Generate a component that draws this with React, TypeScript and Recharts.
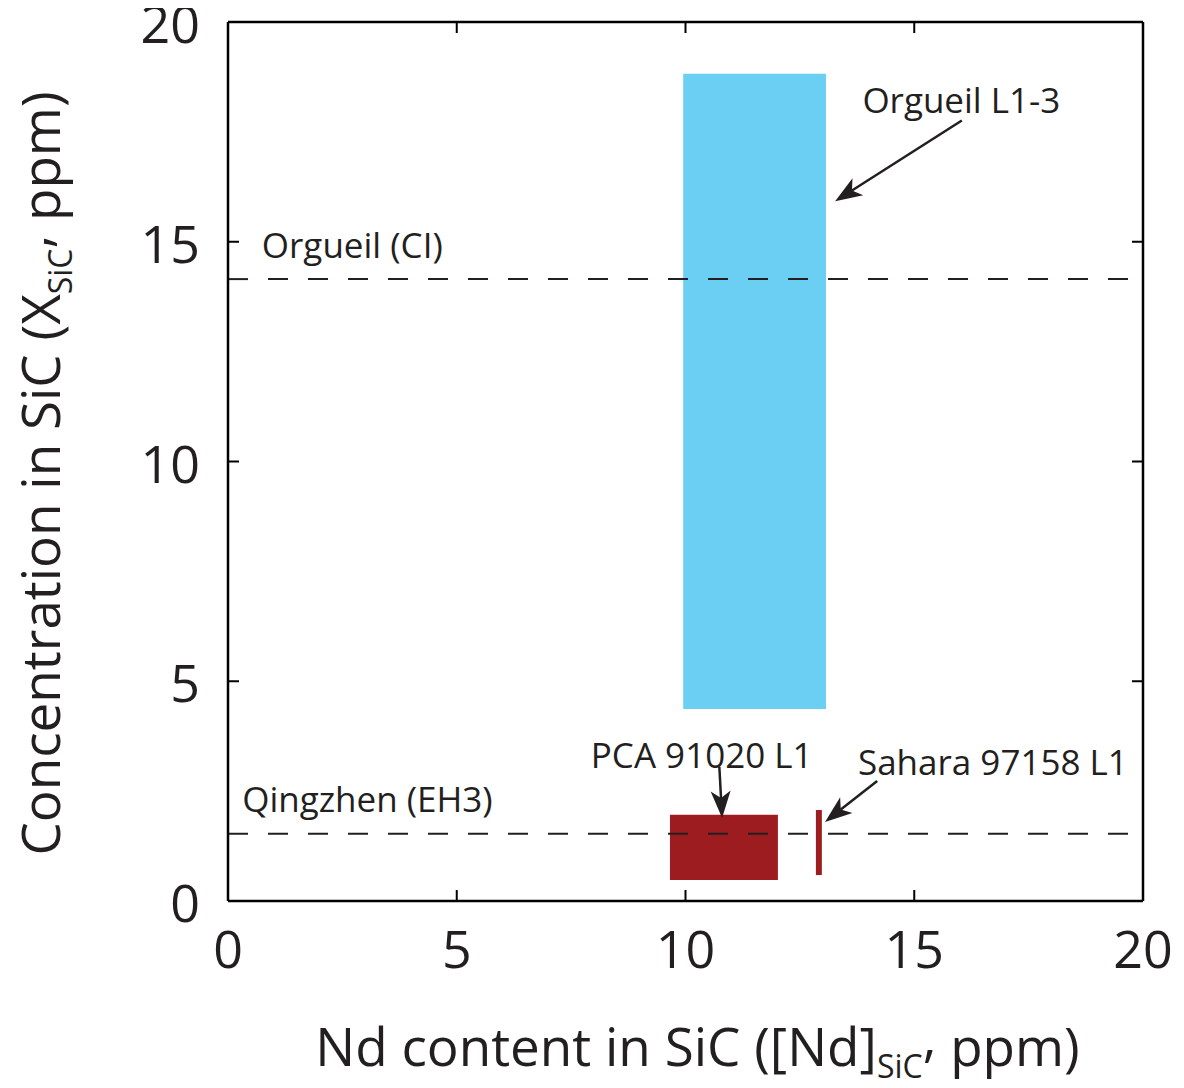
import {
  ComposedChart,
  XAxis,
  YAxis,
  ReferenceArea,
  ReferenceLine,
  ReferenceDot,
} from "recharts";

// axis ticks
const xTicks = [0, 5, 10, 15, 20];
const yTicks = [0, 5, 10, 15, 20];

// measured SiC ranges per sample
const sampleNames = ["Orgueil L1-3", "PCA 91020 L1", "Sahara 97158 L1"];
const ndRanges = [
  [9.95, 13.07],
  [9.66, 12.02],
  [12.85, 12.98],
];
const concRanges = [
  [4.37, 18.82],
  [0.48, 1.96],
  [0.59, 2.07],
];

// bulk meteorite reference levels
const bulkNames = ["Orgueil (CI)", "Qingzhen (EH3)"];
const bulkConc = [14.15, 1.53];
const bulkLabelAt = [
  [0.74, 14.64],
  [0.31, 2.02],
];

// annotation arrows (from label towards box) and label anchors
const arrowFrom = [
  [16.04, 17.76],
  [10.74, 3.05],
  [14.19, 2.73],
];
const arrowTo = [
  [13.27, 15.92],
  [10.8, 1.89],
  [13.05, 1.8],
];
const sampleLabelAt = [
  [16.03, 17.93],
  [7.93, 3.02],
  [13.77, 2.86],
];

const sampleColors = ["#6BCEF3", "#9C1C20", "#9C1C20"];
const INK = "#231F20";
const FONT = "'Open Sans', 'Noto Sans', sans-serif";
const TICK_LEN = 11;

const BottomTick = (props: any) => {
  const { x, y, payload } = props;
  return (
    <g>
      <line x1={x} y1={y} x2={x} y2={y - TICK_LEN} stroke="#000" strokeWidth={2} />
      <text x={x} y={y + 67} textAnchor="middle" fontSize={52} fontFamily={FONT} fill={INK}>
        {payload.value}
      </text>
    </g>
  );
};

const LeftTick = (props: any) => {
  const { x, y, payload } = props;
  return (
    <g>
      <line x1={x} y1={y} x2={x + TICK_LEN} y2={y} stroke="#000" strokeWidth={2} />
      <text x={x - 28} y={y + 21} textAnchor="end" fontSize={52} fontFamily={FONT} fill={INK}>
        {payload.value}
      </text>
    </g>
  );
};

const TopTick = (props: any) => {
  const { x, y } = props;
  return <line x1={x} y1={y} x2={x} y2={y + TICK_LEN} stroke="#000" strokeWidth={2} />;
};

const RightTick = (props: any) => {
  const { x, y } = props;
  return <line x1={x} y1={y} x2={x - TICK_LEN} y2={y} stroke="#000" strokeWidth={2} />;
};

const XTitle = (props: any) => {
  const { viewBox } = props;
  const cx = viewBox.x + viewBox.width / 2 + 12;
  const by = viewBox.y + 165;
  return (
    <text x={cx} y={by} textAnchor="middle" fontSize={53} fontFamily={FONT} fill={INK}>
      Nd content in SiC ([Nd]
      <tspan fontSize={32} dy={12}>SiC</tspan>
      <tspan dy={-22}>,</tspan>
      <tspan dy={10}> ppm)</tspan>
    </text>
  );
};

const YTitle = (props: any) => {
  const { viewBox } = props;
  const cy = viewBox.y + viewBox.height / 2 + 12;
  const bx = 60;
  return (
    <text
      x={bx}
      y={cy}
      transform={`rotate(-90 ${bx} ${cy})`}
      textAnchor="middle"
      fontSize={53}
      fontFamily={FONT}
      fill={INK}
    >
      Concentration in SiC (X
      <tspan fontSize={32} dy={12}>SiC</tspan>
      <tspan dy={-22}>,</tspan>
      <tspan dy={10}> ppm)</tspan>
    </text>
  );
};

const Arrow = (props: any) => {
  const { x1, y1, x2, y2 } = props;
  const dx = x2 - x1;
  const dy = y2 - y1;
  const len = Math.sqrt(dx * dx + dy * dy) || 1;
  const ux = dx / len;
  const uy = dy / len;
  const px = -uy;
  const py = ux;
  const headLen = 27;
  const halfW = 10;
  const notch = 20;
  const bx = x2 - ux * headLen;
  const by = y2 - uy * headLen;
  const nx = x2 - ux * notch;
  const ny = y2 - uy * notch;
  const pts = [
    `${x2},${y2}`,
    `${bx + px * halfW},${by + py * halfW}`,
    `${nx},${ny}`,
    `${bx - px * halfW},${by - py * halfW}`,
  ].join(" ");
  return (
    <g>
      <line x1={x1} y1={y1} x2={nx} y2={ny} stroke={INK} strokeWidth={2.5} />
      <polygon points={pts} fill={INK} />
    </g>
  );
};

const makeTextShape = (text: string, anchor: string) => (p: any) => (
  <text x={p.cx} y={p.cy} textAnchor={anchor} fontSize={35} fontFamily={FONT} fill={INK}>
    {text}
  </text>
);

export default function App() {
  return (
    <div style={{ margin: "-8px 0 0 -8px", width: 1184, height: 1088 }}>
      <ComposedChart
        width={1184}
        height={1088}
        data={[]}
        margin={{ top: 21, right: 40, left: 0, bottom: 0 }}
      >
        <XAxis
          xAxisId="b"
          type="number"
          dataKey="x"
          domain={[0, 20]}
          ticks={xTicks}
          allowDataOverflow
          height={187}
          tickSize={0}
          tickMargin={0}
          tickLine={false}
          axisLine={{ stroke: "#000", strokeWidth: 2.5 }}
          tick={<BottomTick />}
          label={{ content: <XTitle /> }}
        />
        <XAxis
          xAxisId="t"
          orientation="top"
          type="number"
          dataKey="x"
          domain={[0, 20]}
          ticks={xTicks}
          allowDataOverflow
          height={1}
          tickSize={0}
          tickMargin={0}
          tickLine={false}
          axisLine={{ stroke: "#000", strokeWidth: 2.5 }}
          tick={<TopTick />}
        />
        <YAxis
          yAxisId="l"
          type="number"
          dataKey="y"
          domain={[0, 20]}
          ticks={yTicks}
          allowDataOverflow
          width={228}
          tickSize={0}
          tickMargin={0}
          tickLine={false}
          axisLine={{ stroke: "#000", strokeWidth: 2.5 }}
          tick={<LeftTick />}
          label={{ content: <YTitle /> }}
        />
        <YAxis
          yAxisId="r"
          orientation="right"
          type="number"
          dataKey="y"
          domain={[0, 20]}
          ticks={yTicks}
          allowDataOverflow
          width={1}
          tickSize={0}
          tickMargin={0}
          tickLine={false}
          axisLine={{ stroke: "#000", strokeWidth: 2.5 }}
          tick={<RightTick />}
        />

        {sampleNames.map((name, i) => (
          <ReferenceArea
            key={`area-${name}`}
            xAxisId="b"
            yAxisId="l"
            x1={ndRanges[i][0]}
            x2={ndRanges[i][1]}
            y1={concRanges[i][0]}
            y2={concRanges[i][1]}
            fill={sampleColors[i]}
            fillOpacity={1}
            stroke="none"
          />
        ))}

        {bulkNames.map((name, i) => (
          <ReferenceLine
            key={`bulk-${name}`}
            xAxisId="b"
            yAxisId="l"
            y={bulkConc[i]}
            stroke={INK}
            strokeWidth={2}
            strokeDasharray="20 20"
          />
        ))}

        {bulkNames.map((name, i) => (
          <ReferenceDot
            key={`bulk-label-${name}`}
            xAxisId="b"
            yAxisId="l"
            x={bulkLabelAt[i][0]}
            y={bulkLabelAt[i][1]}
            r={0}
            shape={makeTextShape(name, "start")}
          />
        ))}

        {sampleNames.map((name, i) => (
          <ReferenceLine
            key={`arrow-${name}`}
            xAxisId="b"
            yAxisId="l"
            segment={[
              { x: arrowFrom[i][0], y: arrowFrom[i][1] },
              { x: arrowTo[i][0], y: arrowTo[i][1] },
            ]}
            shape={<Arrow />}
          />
        ))}

        {sampleNames.map((name, i) => (
          <ReferenceDot
            key={`label-${name}`}
            xAxisId="b"
            yAxisId="l"
            x={sampleLabelAt[i][0]}
            y={sampleLabelAt[i][1]}
            r={0}
            shape={makeTextShape(name, i === 0 ? "middle" : "start")}
          />
        ))}
      </ComposedChart>
    </div>
  );
}
